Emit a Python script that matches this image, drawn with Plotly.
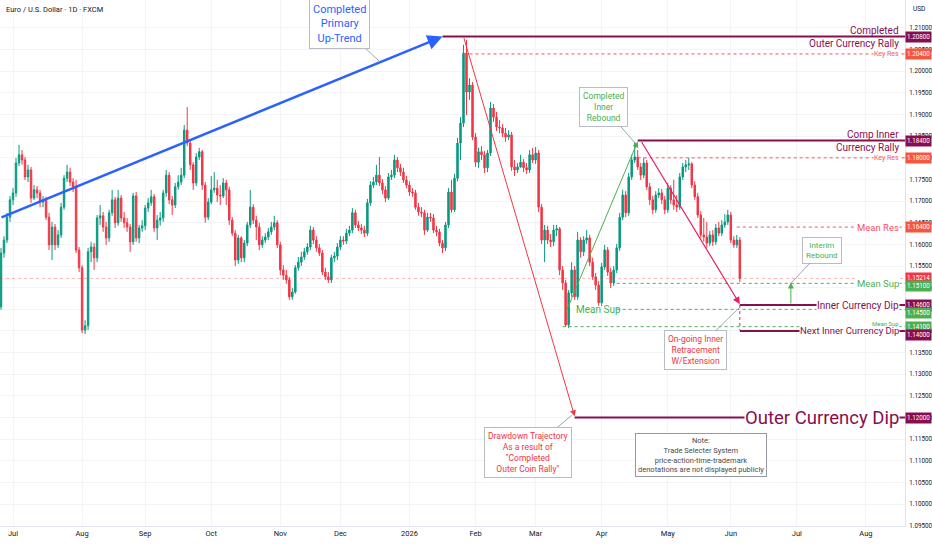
import pandas as pd
import plotly.graph_objects as go

# daily EUR/USD candles (first bar Jun 25 2025, last Jun 4 2026)
first_open = 1.1456
closes = [
    1.1580, 1.1610, 1.1663, 1.1703, 1.1719, 1.1788, 1.1807, 1.1795, 1.1756, 1.1772,
    1.1707, 1.1726, 1.1719, 1.1698, 1.1703, 1.1663, 1.1599, 1.1640, 1.1599, 1.1622,
    1.1686, 1.1753, 1.1767, 1.1744, 1.1733, 1.1587, 1.1546, 1.1402, 1.1412, 1.1583,
    1.1594, 1.1569, 1.1661, 1.1666, 1.1640, 1.1615, 1.1673, 1.1703, 1.1650, 1.1707,
    1.1661, 1.1650, 1.1640, 1.1606, 1.1712, 1.1615, 1.1638, 1.1643, 1.1684, 1.1696,
    1.1710, 1.1638, 1.1656, 1.1661, 1.1719, 1.1760, 1.1703, 1.1691, 1.1733, 1.1744,
    1.1760, 1.1864, 1.1834, 1.1784, 1.1742, 1.1802, 1.1814, 1.1737, 1.1663, 1.1698,
    1.1726, 1.1730, 1.1714, 1.1712, 1.1742, 1.1726, 1.1656, 1.1626, 1.1564, 1.1615,
    1.1569, 1.1603, 1.1645, 1.1686, 1.1656, 1.1640, 1.1599, 1.1610, 1.1617, 1.1629,
    1.1640, 1.1650, 1.1599, 1.1541, 1.1529, 1.1518, 1.1479, 1.1490, 1.1546, 1.1559,
    1.1571, 1.1583, 1.1594, 1.1633, 1.1610, 1.1592, 1.1580, 1.1536, 1.1525, 1.1518,
    1.1569, 1.1573, 1.1594, 1.1610, 1.1608, 1.1626, 1.1633, 1.1673, 1.1645, 1.1638,
    1.1633, 1.1626, 1.1696, 1.1737, 1.1744, 1.1760, 1.1742, 1.1726, 1.1707, 1.1756,
    1.1760, 1.1795, 1.1777, 1.1767, 1.1749, 1.1737, 1.1721, 1.1719, 1.1686, 1.1675,
    1.1673, 1.1633, 1.1663, 1.1661, 1.1633, 1.1629, 1.1603, 1.1592, 1.1645, 1.1721,
    1.1680, 1.1753, 1.1834, 1.1880, 1.2042, 1.1952, 1.1968, 1.1848, 1.1790, 1.1814,
    1.1807, 1.1777, 1.1811, 1.1915, 1.1894, 1.1871, 1.1869, 1.1857, 1.1848, 1.1853,
    1.1779, 1.1772, 1.1779, 1.1790, 1.1777, 1.1772, 1.1807, 1.1795, 1.1811, 1.1686,
    1.1610, 1.1633, 1.1610, 1.1606, 1.1633, 1.1636, 1.1541, 1.1511, 1.1414, 1.1488,
    1.1541, 1.1479, 1.1610, 1.1583, 1.1610, 1.1615, 1.1559, 1.1525, 1.1506, 1.1465,
    1.1548, 1.1587, 1.1536, 1.1511, 1.1541, 1.1592, 1.1663, 1.1714, 1.1673, 1.1756,
    1.1795, 1.1802, 1.1779, 1.1760, 1.1788, 1.1733, 1.1703, 1.1680, 1.1714, 1.1719,
    1.1703, 1.1680, 1.1730, 1.1703, 1.1691, 1.1686, 1.1756, 1.1779, 1.1784, 1.1786,
    1.1737, 1.1710, 1.1668, 1.1622, 1.1617, 1.1603, 1.1622, 1.1606, 1.1638, 1.1626,
    1.1645, 1.1652, 1.1668, 1.1610, 1.1599, 1.1610, 1.15214,
]
highs = [
    1.1592, 1.1619, 1.1673, 1.1712, 1.1730, 1.1800, 1.1830, 1.1818, 1.1802, 1.1784,
    1.1779, 1.1737, 1.1735, 1.1726, 1.1712, 1.1710, 1.1673, 1.1652, 1.1647, 1.1633,
    1.1696, 1.1760, 1.1784, 1.1777, 1.1753, 1.1749, 1.1594, 1.1552, 1.1425, 1.1592,
    1.1606, 1.1603, 1.1668, 1.1691, 1.1675, 1.1652, 1.1680, 1.1726, 1.1710, 1.1726,
    1.1714, 1.1675, 1.1661, 1.1647, 1.1719, 1.1721, 1.1645, 1.1656, 1.1691, 1.1707,
    1.1726, 1.1716, 1.1668, 1.1675, 1.1726, 1.1772, 1.1767, 1.1712, 1.1742, 1.1760,
    1.1777, 1.1876, 1.1917, 1.1841, 1.1790, 1.1811, 1.1823, 1.1818, 1.1744, 1.1707,
    1.1758, 1.1767, 1.1749, 1.1737, 1.1753, 1.1749, 1.1733, 1.1663, 1.1633, 1.1622,
    1.1619, 1.1610, 1.1652, 1.1726, 1.1693, 1.1666, 1.1650, 1.1619, 1.1626, 1.1638,
    1.1652, 1.1666, 1.1656, 1.1606, 1.1552, 1.1541, 1.1525, 1.1499, 1.1552, 1.1571,
    1.1583, 1.1592, 1.1603, 1.1643, 1.1640, 1.1619, 1.1601, 1.1587, 1.1546, 1.1536,
    1.1576, 1.1583, 1.1603, 1.1619, 1.1619, 1.1636, 1.1643, 1.1684, 1.1680, 1.1654,
    1.1647, 1.1643, 1.1705, 1.1746, 1.1756, 1.1784, 1.1802, 1.1751, 1.1735, 1.1765,
    1.1772, 1.1807, 1.1802, 1.1786, 1.1777, 1.1758, 1.1746, 1.1730, 1.1726, 1.1696,
    1.1686, 1.1680, 1.1673, 1.1673, 1.1670, 1.1643, 1.1636, 1.1610, 1.1652, 1.1730,
    1.1749, 1.1763, 1.1846, 1.1894, 1.2061, 1.2072, 1.1984, 1.1975, 1.1857, 1.1823,
    1.1827, 1.1816, 1.1818, 1.1929, 1.1924, 1.1906, 1.1887, 1.1878, 1.1869, 1.1864,
    1.1860, 1.1795, 1.1788, 1.1807, 1.1797, 1.1788, 1.1818, 1.1823, 1.1825, 1.1818,
    1.1693, 1.1645, 1.1643, 1.1624, 1.1645, 1.1645, 1.1640, 1.1550, 1.1518, 1.1495,
    1.1559, 1.1550, 1.1629, 1.1617, 1.1619, 1.1633, 1.1622, 1.1569, 1.1534, 1.1516,
    1.1557, 1.1599, 1.1594, 1.1546, 1.1550, 1.1601, 1.1673, 1.1726, 1.1723, 1.1765,
    1.1807, 1.1837, 1.1818, 1.1788, 1.1800, 1.1795, 1.1742, 1.1712, 1.1723, 1.1730,
    1.1728, 1.1712, 1.1742, 1.1737, 1.1749, 1.1714, 1.1765, 1.1788, 1.1795, 1.1800,
    1.1790, 1.1746, 1.1719, 1.1677, 1.1661, 1.1652, 1.1631, 1.1633, 1.1647, 1.1652,
    1.1656, 1.1670, 1.1680, 1.1675, 1.1619, 1.1622, 1.1617,
]
lows = [
    1.1449, 1.1569, 1.1603, 1.1652, 1.1691, 1.1710, 1.1781, 1.1784, 1.1749, 1.1744,
    1.1696, 1.1703, 1.1707, 1.1686, 1.1686, 1.1656, 1.1587, 1.1564, 1.1587, 1.1592,
    1.1615, 1.1680, 1.1744, 1.1735, 1.1721, 1.1580, 1.1536, 1.1395, 1.1393, 1.1402,
    1.1559, 1.1541, 1.1559, 1.1645, 1.1629, 1.1599, 1.1606, 1.1666, 1.1638, 1.1643,
    1.1652, 1.1638, 1.1629, 1.1583, 1.1599, 1.1606, 1.1603, 1.1629, 1.1633, 1.1675,
    1.1689, 1.1629, 1.1610, 1.1643, 1.1652, 1.1710, 1.1693, 1.1668, 1.1684, 1.1726,
    1.1737, 1.1753, 1.1827, 1.1772, 1.1726, 1.1735, 1.1795, 1.1726, 1.1650, 1.1656,
    1.1693, 1.1719, 1.1698, 1.1691, 1.1707, 1.1691, 1.1645, 1.1619, 1.1550, 1.1555,
    1.1559, 1.1559, 1.1596, 1.1638, 1.1647, 1.1610, 1.1587, 1.1592, 1.1603, 1.1610,
    1.1622, 1.1633, 1.1592, 1.1529, 1.1518, 1.1509, 1.1472, 1.1472, 1.1486, 1.1539,
    1.1550, 1.1564, 1.1576, 1.1587, 1.1601, 1.1583, 1.1573, 1.1529, 1.1518, 1.1511,
    1.1511, 1.1559, 1.1564, 1.1587, 1.1599, 1.1601, 1.1619, 1.1626, 1.1638, 1.1631,
    1.1624, 1.1617, 1.1619, 1.1689, 1.1730, 1.1737, 1.1735, 1.1716, 1.1698, 1.1703,
    1.1749, 1.1753, 1.1767, 1.1758, 1.1742, 1.1730, 1.1712, 1.1710, 1.1680, 1.1666,
    1.1663, 1.1622, 1.1629, 1.1652, 1.1626, 1.1619, 1.1596, 1.1580, 1.1585, 1.1638,
    1.1673, 1.1675, 1.1746, 1.1795, 1.1871, 1.1899, 1.1934, 1.1841, 1.1779, 1.1777,
    1.1795, 1.1765, 1.1767, 1.1804, 1.1883, 1.1862, 1.1857, 1.1848, 1.1837, 1.1841,
    1.1770, 1.1758, 1.1765, 1.1777, 1.1767, 1.1763, 1.1765, 1.1788, 1.1786, 1.1675,
    1.1601, 1.1559, 1.1601, 1.1594, 1.1596, 1.1619, 1.1529, 1.1495, 1.1409, 1.1407,
    1.1479, 1.1472, 1.1472, 1.1569, 1.1573, 1.1601, 1.1550, 1.1518, 1.1495, 1.1458,
    1.1458, 1.1541, 1.1527, 1.1499, 1.1504, 1.1534, 1.1585, 1.1656, 1.1663, 1.1666,
    1.1749, 1.1788, 1.1772, 1.1749, 1.1753, 1.1726, 1.1691, 1.1670, 1.1673, 1.1707,
    1.1693, 1.1670, 1.1673, 1.1693, 1.1680, 1.1675, 1.1680, 1.1749, 1.1767, 1.1772,
    1.1730, 1.1703, 1.1661, 1.1615, 1.1606, 1.1592, 1.1596, 1.1596, 1.1599, 1.1619,
    1.1619, 1.1638, 1.1645, 1.1603, 1.1592, 1.1592, 1.1513,
]
opens = [first_open] + closes[:-1]
dates = pd.bdate_range("2025-06-25", periods=len(closes))

month_ticks = ["2025-07-01", "2025-08-01", "2025-09-01", "2025-10-01", "2025-11-03",
               "2025-12-01", "2026-01-01", "2026-02-02", "2026-03-02", "2026-04-01",
               "2026-05-01", "2026-06-01", "2026-07-01", "2026-08-03"]
month_labels = ["Jul", "Aug", "Sep", "Oct", "Nov", "Dec", "2026",
                "Feb", "Mar", "Apr", "May", "Jun", "Jul", "Aug"]
price_ticks = [1.095, 1.100, 1.105, 1.110, 1.115, 1.120, 1.125, 1.130, 1.135, 1.140,
               1.145, 1.150, 1.155, 1.160, 1.165, 1.170, 1.175, 1.180, 1.185, 1.190,
               1.195, 1.200, 1.205, 1.210]

# marked price levels (right axis badges)
badge_prices = [1.208, 1.204, 1.184, 1.180, 1.164, 1.15214, 1.151, 1.146, 1.145, 1.141, 1.140, 1.120]
badge_kinds = ["mag", "key", "mag", "key", "key", "last", "sup", "mag", "sup", "sup", "mag", "mag"]

MAG = "#880e4f"
KEY = "#f7525f"
RED = "#f23645"
GRN = "#4caf50"
BLUE = "#2962ff"
PINK = "#e91e63"
FONT = "Roboto, sans-serif"
kind_color = {"mag": MAG, "key": "#f4573e", "last": RED, "sup": GRN}
# pixel nudges so stacked badges don't sit on top of each other
badge_nudge = {1.151: -3, 1.145: -4, 1.140: -4}

x_start = "2025-06-24 16:00"
x_end = "2026-08-20"

fig = go.Figure()
fig.add_trace(go.Candlestick(
    x=dates, open=opens, high=highs, low=lows, close=closes,
    increasing=dict(line=dict(color="#089981", width=1), fillcolor="#089981"),
    decreasing=dict(line=dict(color=RED, width=1), fillcolor=RED),
    hoverinfo="skip", showlegend=False,
))


def hline(y, x0, color, dash="solid", width=1.0, opacity=1.0):
    fig.add_shape(type="line", xref="x", yref="y", x0=x0, x1=x_end, y0=y, y1=y,
                  line=dict(color=color, width=width, dash=dash), opacity=opacity)


hline(badge_prices[5], x_start, RED, "dot", 1, 0.35)
hline(badge_prices[0], "2026-01-16", MAG, width=2)
hline(badge_prices[1], "2026-01-27", KEY, "dot")
hline(badge_prices[2], "2026-04-17", MAG, width=2)
hline(badge_prices[3], "2026-04-17", KEY, "dot")
hline(badge_prices[4], "2026-06-03", KEY, "dot")
hline(badge_prices[6], "2026-04-08", GRN, "dot")
hline(badge_prices[7], "2026-06-04", MAG, width=2)
hline(badge_prices[8], "2026-04-08", GRN, "dot")
hline(badge_prices[9], "2026-03-13", GRN, "dot")
hline(badge_prices[10], "2026-06-04", MAG, width=2)
hline(badge_prices[11], "2026-03-19", MAG, width=2)
fig.add_shape(type="line", xref="x", yref="y", x0="2026-06-04", x1="2026-06-04",
              y0=1.146, y1=1.1402, line=dict(color=PINK, width=1, dash="dot"))


def arrow(x, y, ax, ay, color, width):
    fig.add_annotation(x=x, y=y, ax=ax, ay=ay, xref="x", yref="y", axref="x", ayref="y",
                       text="", showarrow=True, arrowhead=2, arrowsize=1.2,
                       arrowwidth=width, arrowcolor=color, standoff=0)


arrow("2026-01-16", 1.2080, x_start, 1.1661, BLUE, 2.5)
arrow("2026-03-19", 1.1203, "2026-01-27", 1.2080, RED, 1)
arrow("2026-04-17", 1.1838, "2026-03-16", 1.1442, GRN, 1)
arrow("2026-06-04", 1.1462, "2026-04-20", 1.1840, PINK, 1.2)
arrow("2026-06-29", 1.1512, "2026-06-29", 1.1460, GRN, 1)


def callout(x, y, ax, ay, text, color, size):
    fig.add_annotation(x=x, y=y, xref="x", yref="y", ax=ax, ay=ay, text=text,
                       showarrow=True, arrowhead=0, arrowwidth=1, arrowcolor="#a3a6af",
                       bgcolor="white", bordercolor="#b8bcc6", borderwidth=1, borderpad=3,
                       font=dict(family=FONT, size=size, color=color))


callout("2025-12-18", 1.2023, -40, -37, "Completed<br>Primary<br>Up-Trend", BLUE, 11)
callout("2026-03-18", 1.1205, -44, 37,
        "Drawdown Trajectory<br>As a result of<br>\"Completed<br>Outer Coin Rally\"", RED, 8.5)
callout("2026-04-16", 1.1835, -31, -36, "Completed<br>Inner<br>Rebound", GRN, 8.5)
callout("2026-06-04", 1.1455, -44, 43, "On-going Inner<br>Retracement<br>W/Extension", RED, 8.5)
callout("2026-06-29", 1.1510, 31, -33, "Interim<br>Rebound", GRN, 8)

fig.add_annotation(xref="paper", yref="paper", x=0.775, y=0.135, xanchor="center",
                   yanchor="middle", showarrow=False,
                   text="Note:<br>Trade Selecter System<br>price-action-time-trademark<br>"
                        "denotations are not displayed publicly",
                   bgcolor="white", bordercolor="#9598a1", borderwidth=1, borderpad=2,
                   font=dict(family=FONT, size=7.5, color="#4a4a4a"))


def level_label(y, text, color, size, anchor="middle", bg=True):
    fig.add_annotation(xref="paper", yref="y", x=0.995, y=y, xanchor="right", yanchor=anchor,
                       text=text, showarrow=False, borderpad=0,
                       bgcolor="white" if bg else "rgba(0,0,0,0)",
                       font=dict(family=FONT, size=size, color=color))


level_label(1.208, "Completed", MAG, 10, "bottom", False)
level_label(1.208, "Outer Currency Rally", MAG, 10, "top", False)
level_label(1.204, "Key Res", KEY, 7)
level_label(1.184, "Comp Inner", MAG, 10, "bottom", False)
level_label(1.184, "Currency Rally", MAG, 10, "top", False)
level_label(1.180, "Key Res", KEY, 7)
level_label(1.164, "Mean Res", KEY, 9.5)
level_label(1.151, "Mean Sup", GRN, 9.5)
level_label(1.146, "Inner Currency Dip", MAG, 10)
level_label(1.140, "Next Inner Currency Dip", MAG, 9.5)
level_label(1.1418, "Mean Sup", GRN, 6, bg=False)
level_label(1.120, "Outer Currency Dip", MAG, 18.5)
fig.add_annotation(x="2026-03-31", y=1.1449, xref="x", yref="y", text="Mean Sup",
                   showarrow=False, font=dict(family=FONT, size=10, color=GRN))

for price, kind in zip(badge_prices, badge_kinds):
    fig.add_annotation(xref="paper", yref="y", x=1.0, y=price, xanchor="left", xshift=0,
                       yshift=badge_nudge.get(price, 0),
                       text=f"{price:.5f}", showarrow=False, bgcolor=kind_color[kind],
                       borderpad=1, font=dict(family=FONT, size=6.3, color="white"))

fig.add_annotation(xref="paper", yref="paper", x=0.004, y=1.0, xanchor="left", yanchor="top",
                   yshift=-3, text="Euro / U.S. Dollar · 1D · FXCM", showarrow=False,
                   font=dict(family=FONT, size=7.5, color="#131722"))
fig.add_annotation(xref="paper", yref="paper", x=1.0, y=1.0, xanchor="left", yanchor="top",
                   xshift=6, yshift=-3, text="USD", showarrow=False,
                   font=dict(family=FONT, size=6.5, color="#131722"))

fig.update_layout(
    width=932, height=550,
    margin=dict(l=0, r=27, t=0, b=24),
    paper_bgcolor="white", plot_bgcolor="white",
    font=dict(family=FONT, color="#131722"),
    showlegend=False,
    xaxis=dict(
        type="date", range=[x_start, x_end],
        rangebreaks=[dict(bounds=["sat", "mon"])],
        rangeslider=dict(visible=False),
        tickvals=month_ticks, ticktext=month_labels,
        tickfont=dict(size=7.5, color="#131722"),
        showgrid=True, gridcolor="#f3f4f6", zeroline=False,
        showline=True, linecolor="#e0e3eb",
    ),
    yaxis=dict(
        side="right", range=[1.09495, 1.21646],
        tickvals=price_ticks, tickformat=".5f",
        tickfont=dict(size=6.3, color="#131722"), ticklabelstandoff=2,
        showgrid=True, gridcolor="#f3f4f6", zeroline=False,
        showline=True, linecolor="#e0e3eb",
    ),
)

fig.write_html("out.html", config={"displayModeBar": False},
               post_script="document.body.style.margin = '0';")
